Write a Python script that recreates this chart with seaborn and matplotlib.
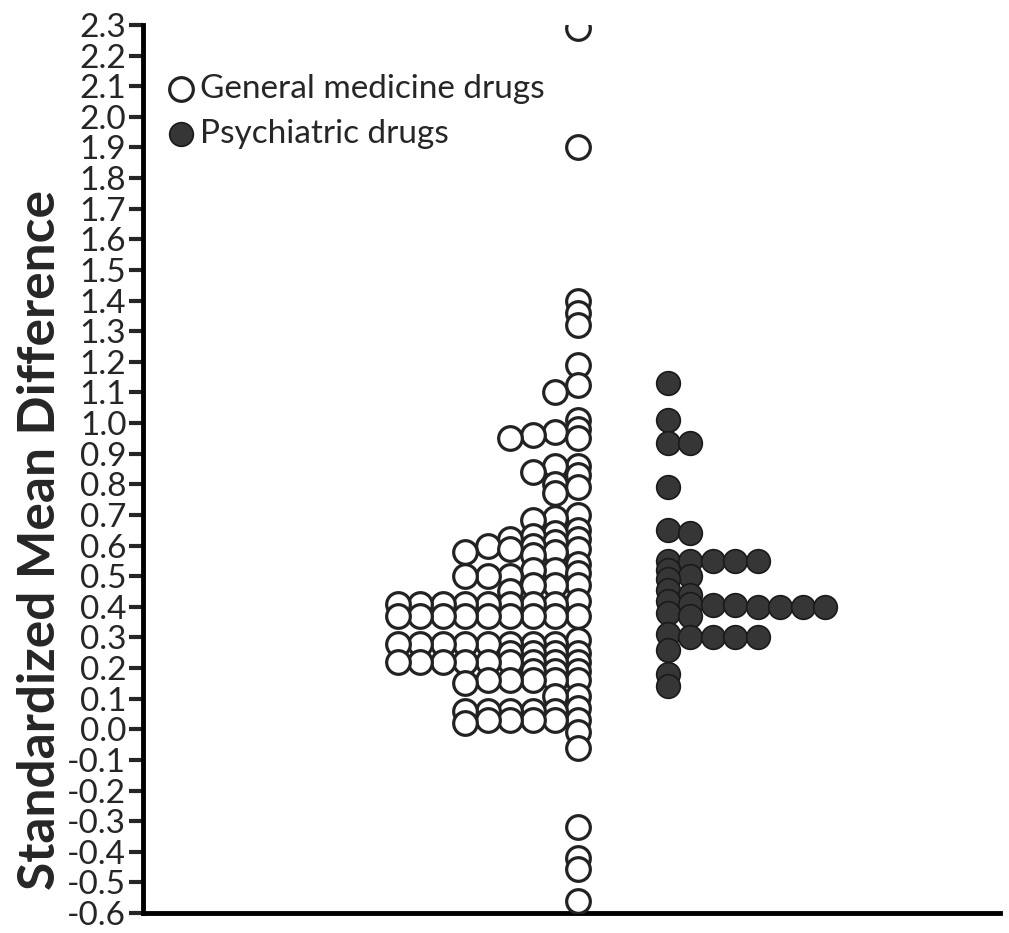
import numpy as np
import pandas as pd
import matplotlib
matplotlib.use('Agg')
import matplotlib.pyplot as plt
import seaborn as sns

# values (standardized mean difference per drug)
general_smd = [
    2.29, 1.90, 1.40, 1.36, 1.32, 1.19, 1.125, 1.10,
    1.01, 0.98, 0.97, 0.96, 0.95, 0.95,
    0.86, 0.86, 0.84, 0.83, 0.80, 0.79, 0.77,
    0.70, 0.69, 0.685,
    0.65, 0.64, 0.63, 0.62, 0.62, 0.61, 0.60, 0.60, 0.59, 0.59, 0.58, 0.58, 0.57,
    0.54, 0.52, 0.52, 0.51, 0.50, 0.50, 0.50, 0.47, 0.47, 0.47, 0.45,
    0.42, 0.41, 0.41, 0.41, 0.41, 0.41, 0.41, 0.41, 0.41,
    0.37, 0.37, 0.37, 0.37, 0.37, 0.37, 0.37, 0.37, 0.37,
    0.29, 0.28, 0.28, 0.28, 0.28, 0.28, 0.28, 0.28, 0.28,
    0.25, 0.25, 0.25, 0.25,
    0.22, 0.22, 0.22, 0.22, 0.22, 0.22, 0.22, 0.22, 0.22,
    0.19, 0.19, 0.19,
    0.16, 0.16, 0.16, 0.16, 0.16, 0.15,
    0.11, 0.11,
    0.07, 0.06, 0.06, 0.06, 0.06, 0.06,
    0.03, 0.03, 0.03, 0.03, 0.03, 0.02,
    -0.01, -0.06,
    -0.32, -0.42, -0.455, -0.56,
]
psych_smd = [
    1.13, 1.01, 0.935, 0.935, 0.79, 0.65, 0.64,
    0.55, 0.55, 0.55, 0.55, 0.55, 0.52, 0.50, 0.49,
    0.455, 0.44, 0.42, 0.41, 0.405, 0.405, 0.40, 0.40, 0.40, 0.40,
    0.38, 0.37,
    0.31, 0.30, 0.30, 0.30, 0.30, 0.26,
    0.18, 0.14,
]
group_labels = ['General medicine drugs', 'Psychiatric drugs']
y_ticks = np.round(np.arange(-0.6, 2.31, 0.1), 1)


def one_sided_swarm(values, h=0.03):
    # greedy column stacking: a point moves one column out while it
    # would sit closer than h (in y) to a point already in that column
    vals = np.asarray(values, dtype=float)
    cols = {}
    pos = np.zeros(len(vals))
    for i in np.argsort(-vals, kind='stable'):
        k = 0
        while any(abs(vals[i] - u) < h for u in cols.get(k, [])):
            k += 1
        cols.setdefault(k, []).append(vals[i])
        pos[i] = k
    return pos


gen_df = pd.DataFrame({'smd': general_smd})
gen_df['x'] = 19.33 - one_sided_swarm(general_smd)
psy_df = pd.DataFrame({'smd': psych_smd})
psy_df['x'] = 23.33 + one_sided_swarm(psych_smd)

sns.set_style('white')
plt.rcParams['font.family'] = ['Lato', 'DejaVu Sans']

fig = plt.figure(figsize=(10.09, 9.33), dpi=100)
ax = fig.add_axes([143 / 1009, 20 / 933, 857 / 1009, 888 / 933])

sns.scatterplot(data=gen_df, x='x', y='smd', ax=ax, s=290, marker='o',
                facecolor='white', edgecolor='#222222', linewidth=2.3,
                label=group_labels[0], zorder=3)
sns.scatterplot(data=psy_df, x='x', y='smd', ax=ax, s=290, marker='o',
                color='#363636', edgecolor='#1a1a1a', linewidth=1.2,
                label=group_labels[1], zorder=3)

ax.set_xlim(0, 857 / 22.5)
ax.set_ylim(-0.6, 2.3)
ax.set_yticks(y_ticks)
ax.set_yticklabels([f'{abs(t):.1f}' if t == 0 else f'{t:.1f}' for t in y_ticks],
                   fontsize=24)
ax.set_xticks([])
ax.set_xlabel('')
ax.set_ylabel('Standardized Mean Difference', fontsize=37, fontweight='bold')
ax.yaxis.set_label_coords(-0.092, 0.42)
ax.tick_params(axis='y', direction='out', length=10, width=3, pad=2, left=True)
sns.despine(ax=ax)
for side in ['left', 'bottom']:
    ax.spines[side].set_linewidth(3.5)
    ax.spines[side].set_color('black')

ax.legend(loc='upper left', bbox_to_anchor=(0.029, 0.945), frameon=False,
          fontsize=24, handlelength=0.8, handletextpad=0.17, labelspacing=0.45,
          markerscale=1.0, borderaxespad=0.0, borderpad=0.0)

fig.savefig('out.png', dpi=100)
